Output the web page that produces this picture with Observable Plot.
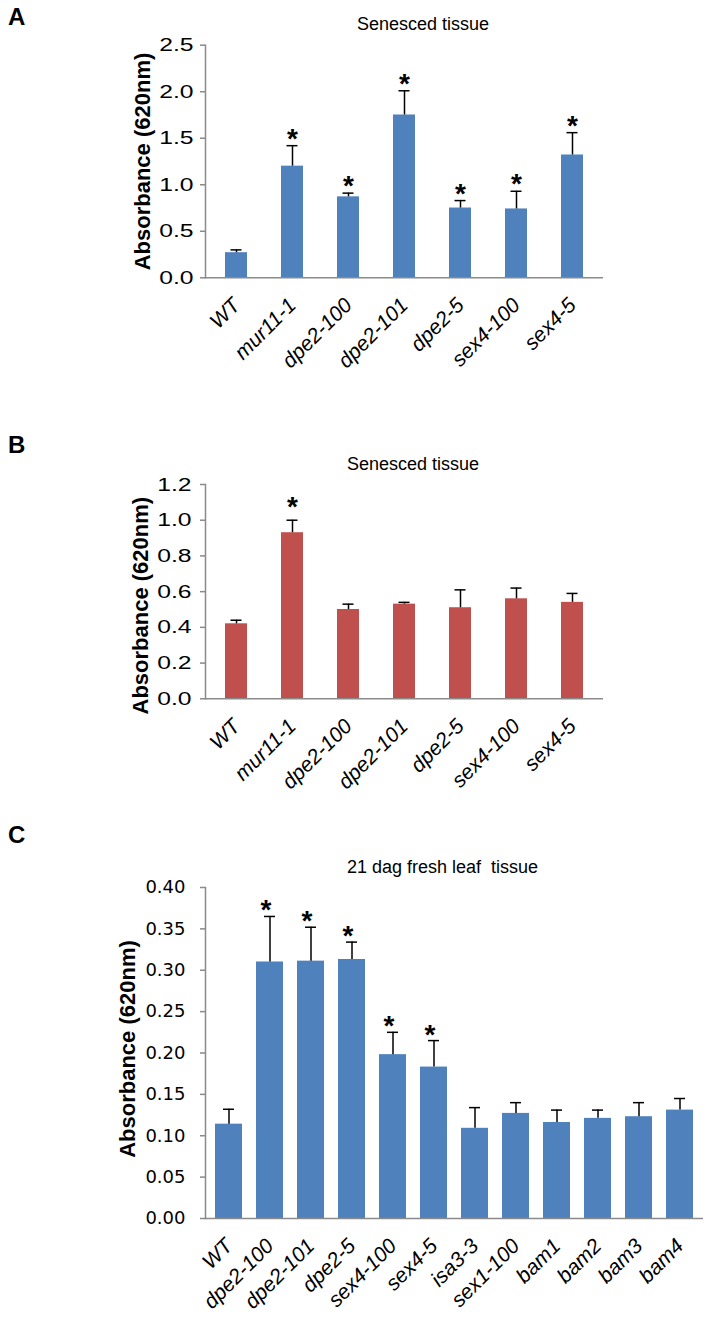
<!DOCTYPE html>
<html><head><meta charset="utf-8">
<script src="https://cdn.jsdelivr.net/npm/d3@7"></script>
<script src="https://cdn.jsdelivr.net/npm/@observablehq/plot@0.6"></script>
<style>
body{margin:0;background:#fff;}
#wrap{position:relative;width:711px;height:1322px;font-family:"Liberation Sans",Arial,sans-serif;color:#000;overflow:hidden;}
.panel{position:absolute;left:0;}
.letter{position:absolute;left:8px;font-size:24px;line-height:24px;font-weight:bold;}
.title{position:absolute;width:400px;text-align:center;font-size:18px;line-height:18px;white-space:pre;}
</style></head>
<body><div id="wrap">
<div class="letter" style="top:4.7px">A</div>
<div class="title" style="left:223px;top:14.7px">Senesced tissue</div>
<div class="panel" id="pA" style="top:0px"></div>
<div class="letter" style="top:432.7px">B</div>
<div class="title" style="left:213px;top:454.7px">Senesced tissue</div>
<div class="panel" id="pB" style="top:400px"></div>
<div class="letter" style="top:822.7px">C</div>
<div class="title" style="left:242.5px;top:857.7px">21 dag fresh leaf  tissue</div>
<div class="panel" id="pC" style="top:820px"></div>
</div>
<script>
// Panel A: Senesced tissue
const catsA = ["WT", "mur11-1", "dpe2-100", "dpe2-101", "dpe2-5", "sex4-100", "sex4-5"];
const meanA = [0.27, 1.20, 0.87, 1.75, 0.75, 0.74, 1.32];
const errA  = [0.03, 0.22, 0.04, 0.26, 0.08, 0.19, 0.24];
const sigA  = [false, true, true, true, true, true, true];
const ticksA = [0, 0.5, 1.0, 1.5, 2.0, 2.5];

// Panel B: Senesced tissue
const catsB = ["WT", "mur11-1", "dpe2-100", "dpe2-101", "dpe2-5", "sex4-100", "sex4-5"];
const meanB = [0.42, 0.93, 0.50, 0.53, 0.51, 0.56, 0.54];
const errB  = [0.02, 0.07, 0.03, 0.01, 0.10, 0.06, 0.05];
const sigB  = [false, true, false, false, false, false, false];
const ticksB = [0, 0.2, 0.4, 0.6, 0.8, 1.0, 1.2];

// Panel C: 21 dag fresh leaf tissue
const catsC = ["WT", "dpe2-100", "dpe2-101", "dpe2-5", "sex4-100", "sex4-5", "isa3-3", "sex1-100", "bam1", "bam2", "bam3", "bam4"];
const meanC = [0.114, 0.310, 0.311, 0.313, 0.198, 0.183, 0.109, 0.127, 0.116, 0.121, 0.123, 0.131];
const errC  = [0.018, 0.055, 0.041, 0.021, 0.027, 0.032, 0.025, 0.013, 0.015, 0.010, 0.017, 0.014];
const sigC  = [false, true, true, true, true, true, false, false, false, false, false, false];
const ticksC = [0, 0.05, 0.10, 0.15, 0.20, 0.25, 0.30, 0.35, 0.40];

const yLabel = "Absorbance (620nm)";

function chart(o) {
  const data = o.cats.map((c, i) => ({cat: c, mean: o.means[i], hi: o.means[i] + o.errs[i], sig: o.sig[i]}));
  const svg = Plot.plot({
    width: 711,
    height: o.height,
    marginTop: o.mt,
    marginBottom: o.mb,
    marginLeft: 205,
    marginRight: o.mr,
    style: {fontFamily: "'Liberation Sans', Arial, sans-serif", fontSize: "19px", background: "transparent", overflow: "visible"},
    x: {domain: o.cats, paddingInner: o.pad, paddingOuter: o.pad / 2},
    y: {domain: [0, o.yMax]},
    marks: [
      Plot.barY(data, {x: "cat", y: "mean", fill: o.color}),
      Plot.ruleX(data, {x: "cat", y1: "mean", y2: "hi", stroke: "black", strokeWidth: 1.5}),
      Plot.tickY(data, {x: "cat", y: "hi", stroke: "black", strokeWidth: 1.5, insetLeft: o.inset, insetRight: o.inset}),
      Plot.text(data.filter(d => d.sig), {x: "cat", y: "hi", text: () => "*", lineAnchor: "bottom", dy: o.starDy, dx: o.starDx, fontSize: 28, fontWeight: "bold"}),
      Plot.ruleY([0], {stroke: "#8a8a8a", strokeWidth: 1.5}),
      Plot.frame({anchor: "left", stroke: "#8a8a8a", strokeWidth: 1.5}),
      Plot.axisY({ticks: o.ticks, tickFormat: d3.format(o.fmt), tickSize: 5, tickPadding: o.tickPad, stroke: "#8a8a8a", strokeWidth: 1.5, fill: "black", fontFamily: o.tickFont, fontSize: o.tickFontSize, label: null}),
      Plot.axisX({tickSize: 0, tickRotate: -45, tickPadding: o.xPad, fill: "black", fontStyle: "italic", fontSize: 21, label: null}),
      Plot.text([yLabel], {frameAnchor: "left", text: d => d, rotate: -90, textAnchor: "middle", lineAnchor: "middle", dx: o.labelDx, dy: o.labelDy, fontWeight: "bold", fontSize: 22})
    ]
  });
  if (o.stretch !== 1) {
    svg.querySelectorAll('g[aria-label="y-axis tick label"] text').forEach(t => {
      const tr = t.getAttribute("transform") || "";
      t.setAttribute("transform", `${tr} scale(${o.stretch},1)`);
    });
  }
  return svg;
}

document.getElementById("pA").append(chart({
  cats: catsA, means: meanA, errs: errA, sig: sigA, ticks: ticksA, yMax: 2.5, fmt: ".1f",
  color: "#4f81bd", height: 400, mt: 44.7, mb: 122.7, mr: 108, pad: 0.61, inset: 5.5,
  starDy: 2, starDx: 0, tickPad: 7, tickFont: "'Liberation Sans', Arial, sans-serif", tickFontSize: 19, stretch: 1.3,
  xPad: 24, labelDx: -63, labelDy: 0
}));
document.getElementById("pB").append(chart({
  cats: catsB, means: meanB, errs: errB, sig: sigB, ticks: ticksB, yMax: 1.2, fmt: ".1f",
  color: "#c0504d", height: 420, mt: 84, mb: 121.7, mr: 108, pad: 0.61, inset: 5.5,
  starDy: -4, starDx: 0, tickPad: 9, tickFont: "'Liberation Sans', Arial, sans-serif", tickFontSize: 19, stretch: 1.3,
  xPad: 24, labelDx: -65, labelDy: 14
}));
document.getElementById("pC").append(chart({
  cats: catsC, means: meanC, errs: errC, sig: sigC, ticks: ticksC, yMax: 0.4, fmt: ".2f",
  color: "#4f81bd", height: 502, mt: 67, mb: 104, mr: 8, pad: 0.34, inset: 8,
  starDy: 3, starDx: -4, tickPad: 15, tickFont: "'DejaVu Sans', Verdana, sans-serif", tickFontSize: 18, stretch: 1,
  xPad: 24, labelDx: -78, labelDy: -4
}));
</script>
</body></html>
